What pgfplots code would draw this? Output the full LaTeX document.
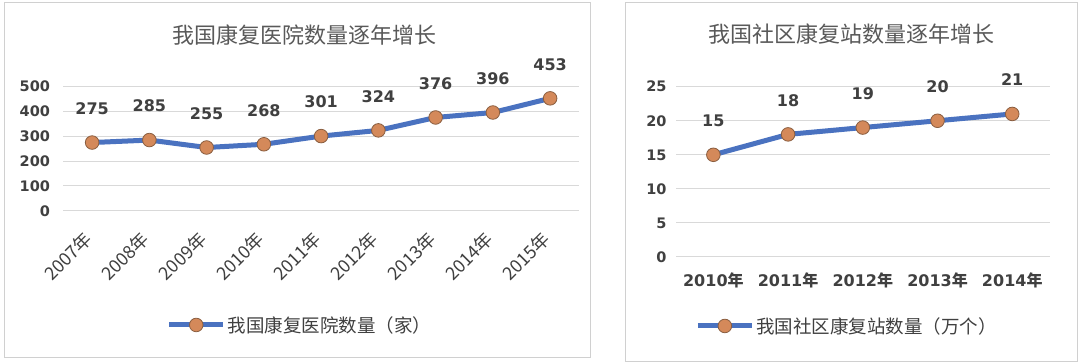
\documentclass[border=0pt]{standalone}
\usepackage{pgfplots}
\pgfplotsset{compat=1.18}
\usepackage{fontspec}
\setmainfont{DejaVu Sans}
\newfontfamily\cjk{Noto Sans CJK SC}
\definecolor{linec}{HTML}{4A72C0}
\definecolor{markf}{HTML}{D4895A}
\definecolor{markd}{HTML}{8A5E40}
\definecolor{gridc}{HTML}{D9D9D9}
\definecolor{txt}{HTML}{404040}
\definecolor{ttl}{HTML}{595959}
\definecolor{frame}{HTML}{D0D0D0}
\pgfplotsset{
  mystyle/.style={
    scale only axis, clip=false,
    axis line style={draw=none},
    tick style={draw=none},
    ymajorgrids, grid style={gridc, line width=1pt},
    ymin=0,
    xtick=data,
    tick label style={text=txt, font=\fontsize{14.5}{14.5}\selectfont\bfseries},
    /pgf/number format/assume math mode=true,
    nodes near coords,
    every node near coord/.append style={anchor=center, yshift=34pt, text=txt,
       font=\fontsize{16}{16}\selectfont\bfseries},
    legend style={draw=none, fill=none, font=\cjk\fontsize{18.5}{18.5}\selectfont, text=txt,
       anchor=center, /tikz/every even column/.append style={column sep=0pt}},
    legend image code/.code={\draw[mark repeat=2,mark phase=2] plot coordinates {(0pt,0pt)(27pt,0pt)(54pt,0pt)};},
  },
  myline/.style={color=linec, line width=5pt, mark=*, mark size=6.8pt,
    mark options={fill=markf, draw=markd, line width=0.8pt}},
}
\begin{document}
\begin{tikzpicture}[x=1pt,y=1pt]
\fill[white] (0,0) rectangle (1080,364);
\draw[frame, line width=1pt] (4,6) rectangle (590,361);
\draw[frame, line width=1pt] (625,2) rectangle (1077,361);
\node[text=ttl, font=\cjk\fontsize{22}{22}\selectfont] at (304,329) {我国康复医院数量逐年增长};
\node[text=ttl, font=\cjk\fontsize{22}{22}\selectfont] at (851,330) {我国社区康复站数量逐年增长};
\begin{axis}[mystyle, at={(63.5pt,153.2pt)}, anchor=south west,
  width=515.25pt, height=124.1pt,
  xmin=-0.5, xmax=8.5, ymax=500, ytick={0,100,...,500},
  yticklabel style={xshift=-10pt},
  xticklabels={2007年,2008年,2009年,2010年,2011年,2012年,2013年,2014年,2015年},
  xticklabel style={xshift=-9.5pt, yshift=-14pt, rotate=45, anchor=north east, font=\cjk\fontsize{18}{18}\selectfont},
  legend style={at={(0.459,-0.92)}},
]
\addplot[myline] coordinates {(0,275)(1,285)(2,255)(3,268)(4,301)(5,324)(6,376)(7,396)(8,453)};
\addlegendentry{我国康复医院数量（家）}
\end{axis}
\begin{axis}[mystyle, at={(676pt,107pt)}, anchor=south west,
  width=373.6pt, height=170.3pt,
  xmin=-0.5, xmax=4.5, ymax=25, ytick={0,5,...,25},
  yticklabel style={xshift=-6pt},
  xticklabels={2010{\cjk 年},2011{\cjk 年},2012{\cjk 年},2013{\cjk 年},2014{\cjk 年}},
  xticklabel style={yshift=-12pt, font=\fontsize{16}{16}\selectfont\bfseries},
  legend style={at={(0.458,-0.405)}},
]
\addplot[myline] coordinates {(0,15)(1,18)(2,19)(3,20)(4,21)};
\addlegendentry{我国社区康复站数量（万个）}
\end{axis}
\end{tikzpicture}
\end{document}
